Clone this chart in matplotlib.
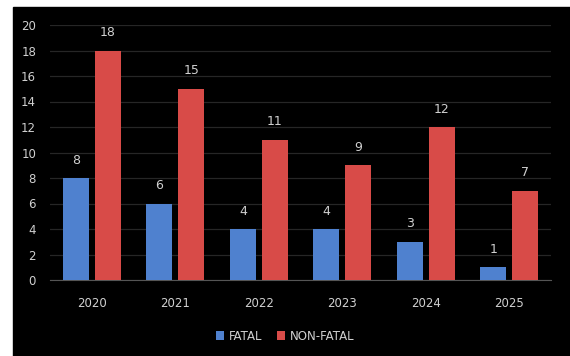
import matplotlib.pyplot as plt
import matplotlib.patches as mpatches
import numpy as np

years = ['2020', '2021', '2022', '2023', '2024', '2025']
fatal = [8, 6, 4, 4, 3, 1]
non_fatal = [18, 15, 11, 9, 12, 7]

W, H = 570, 356
fig = plt.figure(figsize=(W / 100, H / 100), dpi=100, facecolor='white')

# black card behind the chart, white strip on the top and left
fig.patches.append(mpatches.Rectangle((13 / W, 0), 1 - 13 / W, 1 - 7 / H,
                                      transform=fig.transFigure, color='black', zorder=-10))

ax = fig.add_axes([50 / W, 1 - 280 / H, 501 / W, 255 / H])
ax.set_facecolor('black')

x = np.arange(len(years))
bw = 0.31
b1 = ax.bar(x - bw / 2 - 0.035, fatal, bw, color='#4F81CF', label='FATAL', zorder=3)
b2 = ax.bar(x + bw / 2 + 0.035, non_fatal, bw, color='#D84B48', label='NON-FATAL', zorder=3)

txt = '#d0d0d0'
for bars in (b1, b2):
    for r in bars:
        ax.text(r.get_x() + r.get_width() / 2, r.get_height() + 0.9, str(int(r.get_height())),
                ha='center', va='bottom', color=txt, fontsize=9)

ax.set_xlim(-0.5, len(years) - 0.5)
ax.set_ylim(0, 20)
ax.set_yticks(range(0, 21, 2))
ax.set_xticks(x)
ax.set_xticklabels(years)
ax.tick_params(colors=txt, labelsize=8.5, length=0)
ax.tick_params(axis='x', pad=12)
ax.tick_params(axis='y', pad=10)
ax.grid(axis='y', color='#262626', linewidth=0.9, zorder=0)
for s in ('top', 'right', 'left'):
    ax.spines[s].set_visible(False)
ax.spines['bottom'].set_color('#555555')

fig.legend(handles=[b1, b2], loc='center', bbox_to_anchor=(0.5, 1 - 336 / H), ncol=2,
           frameon=False, fontsize=8.5, labelcolor=txt, handlelength=0.7, handleheight=0.7,
           handletextpad=0.4, columnspacing=1.2)

fig.savefig('out.png', dpi=100, facecolor='white')
